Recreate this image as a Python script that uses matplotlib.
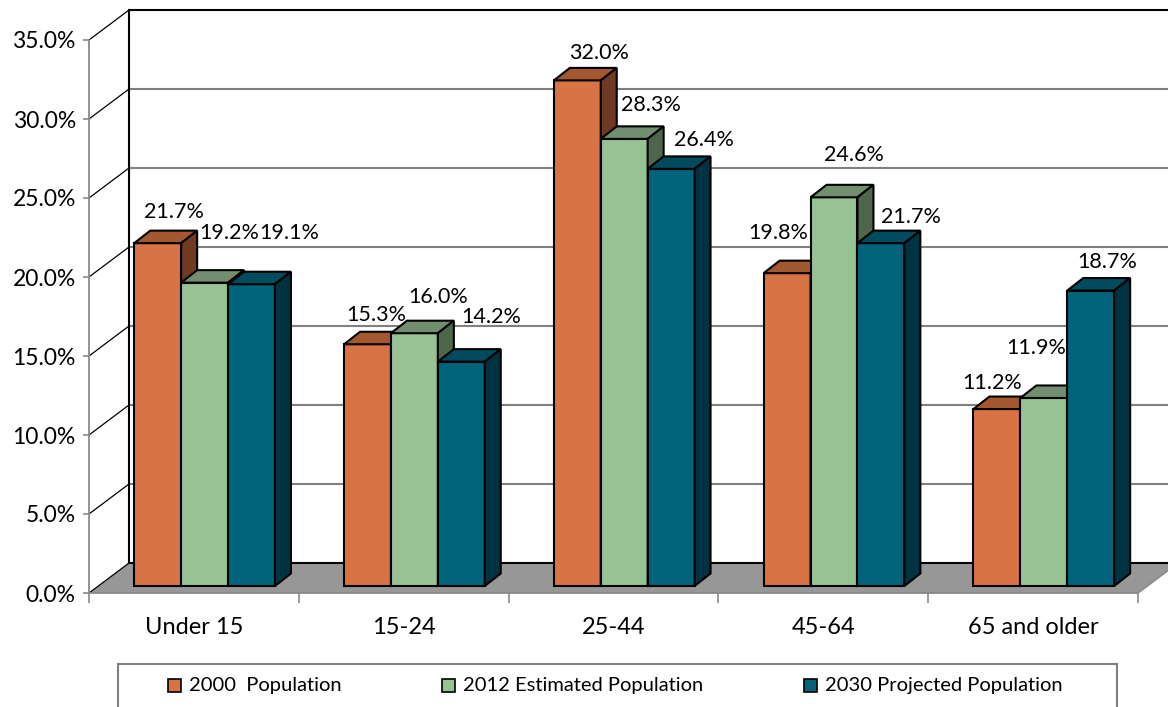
import matplotlib
matplotlib.use("Agg")
import matplotlib.pyplot as plt
from matplotlib.patches import Polygon, Rectangle
from matplotlib.lines import Line2D

# ---------------- data ----------------
categories = ["Under 15", "15-24", "25-44", "45-64", "65 and older"]
series_names = ["2000  Population", "2012 Estimated Population", "2030 Projected Population"]
pop_2000 = [21.7, 15.3, 32.0, 19.8, 11.2]
pop_2012 = [19.2, 16.0, 28.3, 24.6, 11.9]
pop_2030 = [19.1, 14.2, 26.4, 21.7, 18.7]
y_ticks = [0, 5, 10, 15, 20, 25, 30, 35]

# ---------------- style ----------------
FONT = ["Lato", "DejaVu Sans"]
front_colors = ["#D87345", "#97C294", "#00637A"]
top_colors = ["#A4582F", "#718F6E", "#004B5D"]
side_colors = ["#6E3A22", "#4E664C", "#003341"]
# value label nudges (pixels) relative to the top-front centre of each bar
label_dx = [[16, 25, 38], [9, 24, 30], [22, 27, 33], [-9, 20, 30], [-5, -8, 17]]
label_dy = [[31, 50, 51], [29, 36, 45], [27, 34, 29], [40, 42, 26], [26, 50, 29]]

W, H = 1168, 707
plt.rcParams["font.family"] = FONT
fig = plt.figure(figsize=(W / 100, H / 100), dpi=100)
# front plane of the 3-D box
L, R, B, T = 89, 1138, 593, 40
ax = fig.add_axes([L / W, (H - B) / H, (R - L) / W, (B - T) / H])
ncat = len(categories)
ymax = y_ticks[-1]
ax.set_xlim(0, ncat)
ax.set_ylim(0, ymax)
sx = (R - L) / ncat          # px per category
sy = (B - T) / ymax          # px per percent

def px2d(dxp, dyp):
    return dxp / sx, dyp / sy

ddx, ddy = px2d(40, 30)      # full depth of the box
fx, fy = px2d(10.7, 7)       # bar front plane offset
bdx, bdy = px2d(16, 12.5)    # bar depth
bw = 46.9 / sx
gap = (1 - 3 * bw) / 2

for s in ["top", "right"]:
    ax.spines[s].set_visible(False)
ax.spines["left"].set_color("#8a8a8a")
ax.spines["left"].set_linewidth(1.3)
ax.spines["bottom"].set_color("#8a8a8a")
ax.spines["bottom"].set_linewidth(1.3)

# floor
floor = Polygon([(0, 0), (ncat, 0), (ncat + ddx, ddy), (ddx, ddy)], closed=True,
                facecolor="#979797", edgecolor="none", clip_on=False, zorder=0.5)
ax.add_patch(floor)
ax.add_line(Line2D([ncat, ncat + ddx], [0, ddy], color="#8a8a8a", lw=1.2, clip_on=False, zorder=0.6))
ax.add_line(Line2D([ddx, ncat + ddx], [ddy, ddy], color="black", lw=1.5, clip_on=False, zorder=0.7))

# back wall gridlines and diagonals
for t in y_ticks:
    if 0 < t < ymax:
        ax.add_line(Line2D([ddx, ncat + ddx], [t + ddy, t + ddy], color="#808080",
                           lw=1.5, clip_on=False, zorder=0.4))
    ax.add_line(Line2D([0, ddx], [t, t + ddy], color="black", lw=0.9, clip_on=False, zorder=0.7))
ax.add_line(Line2D([ddx, ncat + ddx], [ymax + ddy, ymax + ddy], color="black", lw=1.5,
                   clip_on=False, zorder=0.7))
ax.add_line(Line2D([ddx, ddx], [ddy, ymax + ddy], color="black", lw=1.5, clip_on=False, zorder=0.7))

# bars
series = [pop_2000, pop_2012, pop_2030]
ec = "black"
lw = 1.5
for k in range(ncat):
    for s, vals in enumerate(series):
        v = vals[k]
        x0 = k + gap + s * bw + fx
        x1 = x0 + bw
        y0 = fy
        y1 = v + fy
        z = 2 + k * 3 + s
        ax.add_patch(Polygon([(x0, y0), (x1, y0), (x1, y1), (x0, y1)], closed=True,
                             facecolor=front_colors[s], edgecolor=ec, lw=lw, zorder=z,
                             joinstyle="miter", clip_on=False))
        ax.add_patch(Polygon([(x0, y1), (x1, y1), (x1 + bdx, y1 + bdy), (x0 + bdx, y1 + bdy)],
                             closed=True, facecolor=top_colors[s], edgecolor=ec, lw=lw, zorder=z,
                             joinstyle="miter", clip_on=False))
        ax.add_patch(Polygon([(x1, y0), (x1 + bdx, y0 + bdy), (x1 + bdx, y1 + bdy), (x1, y1)],
                             closed=True, facecolor=side_colors[s], edgecolor=ec, lw=lw, zorder=z,
                             joinstyle="miter", clip_on=False))
        ax.annotate(f"{v:.1f}%", xy=((x0 + x1) / 2, y1), xytext=(label_dx[k][s], label_dy[k][s]),
                    textcoords="offset pixels", ha="center", va="center", fontsize=15.5,
                    color="black", zorder=40, annotation_clip=False)

# ticks
ax.set_yticks(y_ticks)
ax.set_yticklabels([f"{t:.1f}%" for t in y_ticks], fontsize=16.5)
ax.tick_params(axis="y", length=4.5, width=1.2, color="#8a8a8a", pad=5)
ax.set_xticks([k + 0.5 for k in range(ncat)])
ax.set_xticklabels(categories, fontsize=17)
ax.tick_params(axis="x", which="major", length=0, pad=17)
ax.set_xticks(list(range(ncat + 1)), minor=True)
ax.tick_params(axis="x", which="minor", length=7, width=1.2, color="#8a8a8a", direction="out")

# legend (drawn manually in figure pixels)
def fx_(p):
    return p / W

def fy_(p):
    return (H - p) / H

fig.add_artist(Rectangle((fx_(118), fy_(720)), fx_(1116.5) - fx_(118), fy_(664) - fy_(720),
                         transform=fig.transFigure, fill=False, edgecolor="#808080", lw=1.5))
marker_x = [168, 442, 804]
for s, name in enumerate(series_names):
    fig.add_artist(Rectangle((fx_(marker_x[s]), fy_(692)), 13 / W, 13 / H,
                             transform=fig.transFigure, facecolor=front_colors[s],
                             edgecolor="black", lw=1.2))
    fig.text(fx_(marker_x[s] + 21), fy_(685), name, ha="left", va="center", fontsize=14.5)

fig.savefig("out.png", dpi=100)
